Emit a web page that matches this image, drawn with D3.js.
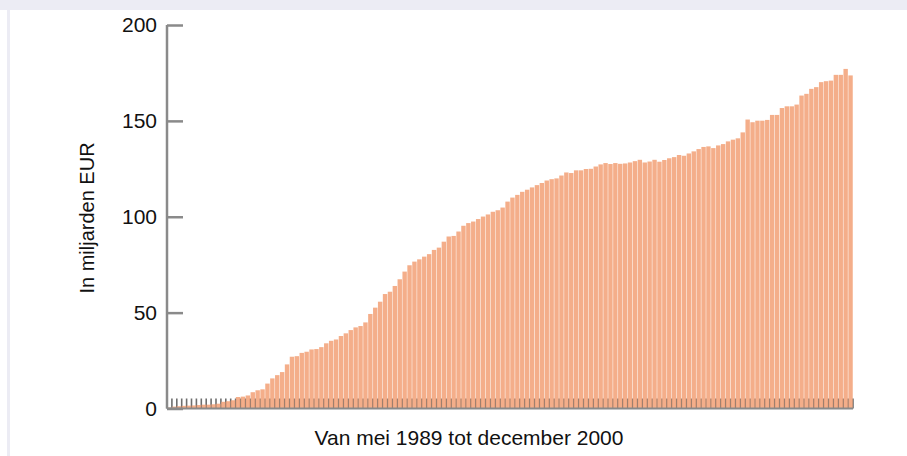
<!DOCTYPE html>
<html>
<head>
<meta charset="utf-8">
<script src="https://cdn.jsdelivr.net/npm/d3@7"></script>
<style>
  body { margin: 0; background: #ffffff; }
  svg { display: block; }
</style>
</head>
<body>
<svg id="Chart"></svg>
<script>
// monthly totals, May 1989 .. December 2000 (billions EUR)
let values = [
    0.5, 1, 1.2, 1.4, 1.5, 1.6, 1.8, 2, 2, 2.2,
    2.5, 3.5, 3.8, 4.3, 6, 6.2, 6.8, 8.5, 9.5, 10,
    13, 15.7, 17.4, 19, 23, 27, 27.3, 29, 29.6, 30.8,
    31, 32, 34, 35.3, 36, 37.8, 39.2, 40.9, 42.3, 43,
    44.9, 49.3, 52.6, 55.7, 59.7, 60.9, 63.9, 67.4, 71.4, 74.7,
    76.6, 77.8, 79.2, 80.5, 82.7, 83.9, 87, 89.7, 90, 92.3,
    95.3, 96.7, 97.5, 98.8, 100.1, 101.2, 102.6, 103.4, 104.8, 107.9,
    110, 111.4, 113, 114.1, 115.3, 116.5, 117.6, 118.9, 119.6, 120,
    121.5, 123.1, 122.8, 124.2, 124.2, 124.9, 125, 126.2, 127.3, 128,
    127.5, 128, 127.6, 127.8, 128.3, 129, 129.7, 128.3, 128.8, 129.7,
    128.7, 129.6, 130.5, 131.1, 132.2, 131.8, 133, 134.1, 135.3, 136.4,
    136.7, 135.8, 137.2, 137.9, 139.3, 140.2, 140.9, 144, 150.7, 149.3,
    150.1, 150.1, 150.5, 153.1, 153.1, 156.7, 157.6, 157.6, 158.5, 163.2,
    164.1, 166.7, 167.6, 170.2, 170.7, 171, 174, 174, 177.1, 173.7
]
let yTicks = [0, 50, 100, 150, 200]
let yTitle = "In miljarden EUR"
let xTitle = "Van mei 1989 tot december 2000"

// month categories
let months = []
for (let i = 0; i < values.length; i++) {
    let d = new Date(1989, 4 + i, 1)
    months.push(d3.timeFormat("%Y-%m")(d))
}

let width = 907
let height = 456
let fontFamily = "'Liberation Sans', Arial, sans-serif"
let barColor = "#f29c70"
let axisColor = "#8a8a8a"
let frameColor = "#ececf4"

let svg = d3.select("#Chart")
    .attr("width", width)
    .attr("height", height)

// page frame
svg.append("rect")
    .attr("x", 0).attr("y", 0)
    .attr("width", width).attr("height", 10)
    .attr("fill", frameColor)
svg.append("rect")
    .attr("x", 7).attr("y", 10)
    .attr("width", 3).attr("height", height - 10)
    .attr("fill", frameColor)

let x = d3.scaleBand()
    .domain(months)
    .range([167, 853])
    .paddingInner(0.1)
    .paddingOuter(0.05)

let xEdge = d3.scaleLinear()
    .domain([0, months.length])
    .range([167, 853])

let y = d3.scaleLinear()
    .domain([0, 200])
    .range([408.5, 25])

// small ticks at every month boundary
svg.append("g")
    .selectAll("line")
    .data(d3.range(months.length + 1))
    .enter().append("line")
    .attr("x1", d => xEdge(d))
    .attr("x2", d => xEdge(d))
    .attr("y1", y(0))
    .attr("y2", y(0) - 10)
    .attr("stroke", "#6e6e6e")
    .attr("stroke-width", 1.6)

svg.append("g")
    .selectAll("rect")
    .data(values)
    .enter().append("rect")
    .attr("x", (d, i) => x(months[i]))
    .attr("width", x.bandwidth())
    .attr("y", d => y(d))
    .attr("height", d => y(0) - y(d))
    .attr("fill", barColor)
    .attr("fill-opacity", 0.82)

// x baseline
svg.append("line")
    .attr("x1", 167).attr("x2", 853)
    .attr("y1", y(0)).attr("y2", y(0))
    .attr("stroke", axisColor)
    .attr("stroke-width", 2)

// y axis
let yAxis = svg.append("g")
    .attr("transform", "translate(167,0)")
    .call(d3.axisRight(y).tickValues(yTicks).tickSize(16).tickFormat(""))
yAxis.select(".domain")
    .attr("stroke", axisColor)
    .attr("stroke-width", 2.5)
    .attr("d", "M0," + y(200) + "V" + y(0))
yAxis.selectAll(".tick line")
    .attr("stroke", axisColor)
    .attr("stroke-width", 2.5)

svg.append("g")
    .selectAll("text")
    .data(yTicks)
    .enter().append("text")
    .attr("x", 157)
    .attr("y", d => y(d))
    .attr("dy", "0.35em")
    .attr("text-anchor", "end")
    .attr("font-family", fontFamily)
    .attr("font-size", "21px")
    .attr("fill", "#111")
    .text(d => d)

svg.append("text")
    .attr("transform", "translate(94,218) rotate(-90)")
    .attr("text-anchor", "middle")
    .attr("font-family", fontFamily)
    .attr("font-size", "20px")
    .attr("fill", "#111")
    .text(yTitle)

svg.append("text")
    .attr("x", 469)
    .attr("y", 445)
    .attr("text-anchor", "middle")
    .attr("font-family", fontFamily)
    .attr("font-size", "21px")
    .attr("fill", "#111")
    .text(xTitle)
</script>
</body>
</html>
